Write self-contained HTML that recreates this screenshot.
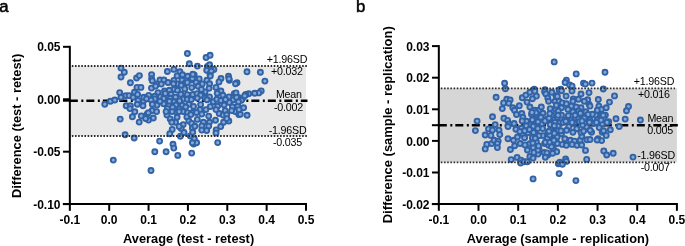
<!DOCTYPE html>
<html><head><meta charset="utf-8"><style>
html,body{margin:0;padding:0;background:#fff;width:685px;height:246px;overflow:hidden}
svg{display:block;will-change:transform}
text{font-family:"Liberation Sans",sans-serif;fill:#000}
.tk{font-size:12px;font-weight:bold}
.ti{font-size:12.9px;font-weight:bold}
.an{font-size:10.7px;text-anchor:middle;fill:#000;letter-spacing:-0.2px}
.lt{font-size:16.8px;stroke:#000;stroke-width:0.5px}
circle{fill:#85aad9;stroke:#3162a6;stroke-width:1.9}
</style></head><body>
<svg width="685" height="246" viewBox="0 0 685 246">
<rect x="70.84" y="66.00" width="235.16" height="70.00" fill="#e8e8e8"/>
<line x1="69.84" x2="307.50" y1="100.70" y2="100.70" stroke="#000" stroke-width="2.6" stroke-dasharray="8 3.5 2 3"/>
<line x1="62.94" x2="69.84" y1="100.70" y2="100.70" stroke="#000" stroke-width="2"/>
<circle cx="187.4" cy="53.5" r="2.5"/>
<circle cx="189.3" cy="63.7" r="2.5"/>
<circle cx="121.0" cy="68.1" r="2.5"/>
<circle cx="124.3" cy="72.3" r="2.5"/>
<circle cx="121.0" cy="77.0" r="2.5"/>
<circle cx="130.4" cy="82.7" r="2.5"/>
<circle cx="136.6" cy="78.0" r="2.5"/>
<circle cx="139.4" cy="75.6" r="2.5"/>
<circle cx="151.6" cy="74.6" r="2.5"/>
<circle cx="151.6" cy="78.7" r="2.5"/>
<circle cx="167.4" cy="71.5" r="2.5"/>
<circle cx="173.9" cy="69.4" r="2.5"/>
<circle cx="179.9" cy="71.8" r="2.5"/>
<circle cx="182.5" cy="74.8" r="2.5"/>
<circle cx="177.1" cy="75.9" r="2.5"/>
<circle cx="187.7" cy="76.2" r="2.5"/>
<circle cx="160.0" cy="80.0" r="2.5"/>
<circle cx="163.9" cy="80.0" r="2.5"/>
<circle cx="168.0" cy="82.5" r="2.5"/>
<circle cx="173.9" cy="80.4" r="2.5"/>
<circle cx="182.0" cy="80.0" r="2.5"/>
<circle cx="185.2" cy="83.2" r="2.5"/>
<circle cx="156.8" cy="84.0" r="2.5"/>
<circle cx="190.9" cy="80.0" r="2.5"/>
<circle cx="177.9" cy="84.0" r="2.5"/>
<circle cx="206.1" cy="57.5" r="2.5"/>
<circle cx="210.1" cy="55.2" r="2.5"/>
<circle cx="197.4" cy="66.1" r="2.5"/>
<circle cx="207.5" cy="66.5" r="2.5"/>
<circle cx="209.6" cy="64.7" r="2.5"/>
<circle cx="206.7" cy="70.2" r="2.5"/>
<circle cx="213.9" cy="69.4" r="2.5"/>
<circle cx="210.0" cy="73.9" r="2.5"/>
<circle cx="211.3" cy="71.0" r="2.5"/>
<circle cx="247.0" cy="71.8" r="2.5"/>
<circle cx="260.4" cy="72.3" r="2.5"/>
<circle cx="264.9" cy="81.1" r="2.5"/>
<circle cx="228.5" cy="76.2" r="2.5"/>
<circle cx="229.3" cy="80.2" r="2.5"/>
<circle cx="221.0" cy="78.5" r="2.5"/>
<circle cx="219.0" cy="81.9" r="2.5"/>
<circle cx="237.0" cy="82.7" r="2.5"/>
<circle cx="199.2" cy="78.9" r="2.5"/>
<circle cx="206.9" cy="80.2" r="2.5"/>
<circle cx="194.2" cy="75.0" r="2.5"/>
<circle cx="196.1" cy="82.4" r="2.5"/>
<circle cx="202.2" cy="83.9" r="2.5"/>
<circle cx="209.6" cy="83.7" r="2.5"/>
<circle cx="104.8" cy="104.2" r="2.5"/>
<circle cx="110.4" cy="101.3" r="2.5"/>
<circle cx="114.8" cy="100.0" r="2.5"/>
<circle cx="119.7" cy="92.6" r="2.5"/>
<circle cx="121.0" cy="97.2" r="2.5"/>
<circle cx="125.9" cy="95.6" r="2.5"/>
<circle cx="129.1" cy="95.6" r="2.5"/>
<circle cx="126.2" cy="105.8" r="2.5"/>
<circle cx="130.4" cy="105.7" r="2.5"/>
<circle cx="130.0" cy="108.6" r="2.5"/>
<circle cx="134.5" cy="92.3" r="2.5"/>
<circle cx="133.2" cy="97.2" r="2.5"/>
<circle cx="137.6" cy="94.4" r="2.5"/>
<circle cx="137.0" cy="87.4" r="2.5"/>
<circle cx="140.9" cy="87.4" r="2.5"/>
<circle cx="138.1" cy="100.4" r="2.5"/>
<circle cx="137.3" cy="104.2" r="2.5"/>
<circle cx="143.5" cy="100.9" r="2.5"/>
<circle cx="143.8" cy="97.2" r="2.5"/>
<circle cx="143.0" cy="105.8" r="2.5"/>
<circle cx="134.8" cy="111.8" r="2.5"/>
<circle cx="132.4" cy="116.7" r="2.5"/>
<circle cx="141.3" cy="115.9" r="2.5"/>
<circle cx="120.2" cy="119.1" r="2.5"/>
<circle cx="139.2" cy="122.1" r="2.5"/>
<circle cx="147.0" cy="114.2" r="2.5"/>
<circle cx="148.5" cy="120.1" r="2.5"/>
<circle cx="153.3" cy="118.0" r="2.5"/>
<circle cx="152.2" cy="110.5" r="2.5"/>
<circle cx="157.0" cy="105.1" r="2.5"/>
<circle cx="161.3" cy="84.1" r="2.5"/>
<circle cx="173.5" cy="83.7" r="2.5"/>
<circle cx="181.2" cy="85.3" r="2.5"/>
<circle cx="184.8" cy="88.9" r="2.5"/>
<circle cx="191.7" cy="87.6" r="2.5"/>
<circle cx="151.5" cy="88.1" r="2.5"/>
<circle cx="155.6" cy="86.1" r="2.5"/>
<circle cx="158.0" cy="92.6" r="2.5"/>
<circle cx="164.5" cy="91.0" r="2.5"/>
<circle cx="169.4" cy="90.2" r="2.5"/>
<circle cx="174.3" cy="89.3" r="2.5"/>
<circle cx="177.5" cy="90.2" r="2.5"/>
<circle cx="171.0" cy="94.2" r="2.5"/>
<circle cx="148.7" cy="95.4" r="2.5"/>
<circle cx="154.8" cy="96.3" r="2.5"/>
<circle cx="160.4" cy="96.7" r="2.5"/>
<circle cx="165.3" cy="93.4" r="2.5"/>
<circle cx="175.5" cy="97.1" r="2.5"/>
<circle cx="180.8" cy="94.2" r="2.5"/>
<circle cx="187.3" cy="94.6" r="2.5"/>
<circle cx="192.8" cy="94.5" r="2.5"/>
<circle cx="146.6" cy="98.7" r="2.5"/>
<circle cx="170.2" cy="98.3" r="2.5"/>
<circle cx="183.2" cy="99.0" r="2.5"/>
<circle cx="188.9" cy="98.7" r="2.5"/>
<circle cx="187.3" cy="82.4" r="2.5"/>
<circle cx="152.3" cy="80.8" r="2.5"/>
<circle cx="154.8" cy="98.9" r="2.5"/>
<circle cx="151.1" cy="100.1" r="2.5"/>
<circle cx="163.7" cy="98.5" r="2.5"/>
<circle cx="179.6" cy="100.9" r="2.5"/>
<circle cx="187.3" cy="99.3" r="2.5"/>
<circle cx="191.3" cy="99.5" r="2.5"/>
<circle cx="152.3" cy="104.2" r="2.5"/>
<circle cx="163.7" cy="103.8" r="2.5"/>
<circle cx="169.0" cy="105.0" r="2.5"/>
<circle cx="173.9" cy="101.7" r="2.5"/>
<circle cx="175.9" cy="105.0" r="2.5"/>
<circle cx="169.4" cy="101.3" r="2.5"/>
<circle cx="182.4" cy="105.4" r="2.5"/>
<circle cx="188.9" cy="104.2" r="2.5"/>
<circle cx="193.5" cy="106.4" r="2.5"/>
<circle cx="185.7" cy="107.0" r="2.5"/>
<circle cx="179.1" cy="109.0" r="2.5"/>
<circle cx="172.6" cy="107.4" r="2.5"/>
<circle cx="167.4" cy="108.6" r="2.5"/>
<circle cx="156.6" cy="111.6" r="2.5"/>
<circle cx="148.3" cy="112.7" r="2.5"/>
<circle cx="172.2" cy="111.6" r="2.5"/>
<circle cx="177.1" cy="112.3" r="2.5"/>
<circle cx="183.2" cy="111.5" r="2.5"/>
<circle cx="187.5" cy="112.6" r="2.5"/>
<circle cx="193.0" cy="112.3" r="2.5"/>
<circle cx="160.0" cy="101.3" r="2.5"/>
<circle cx="167.0" cy="114.9" r="2.5"/>
<circle cx="170.2" cy="118.9" r="2.5"/>
<circle cx="177.1" cy="117.3" r="2.5"/>
<circle cx="175.5" cy="122.2" r="2.5"/>
<circle cx="171.8" cy="122.2" r="2.5"/>
<circle cx="179.1" cy="111.6" r="2.5"/>
<circle cx="186.9" cy="116.9" r="2.5"/>
<circle cx="190.9" cy="114.5" r="2.5"/>
<circle cx="188.9" cy="121.0" r="2.5"/>
<circle cx="183.2" cy="124.6" r="2.5"/>
<circle cx="181.2" cy="128.4" r="2.5"/>
<circle cx="191.7" cy="123.4" r="2.5"/>
<circle cx="172.2" cy="129.4" r="2.5"/>
<circle cx="192.4" cy="128.0" r="2.5"/>
<circle cx="166.1" cy="111.6" r="2.5"/>
<circle cx="169.8" cy="133.7" r="2.5"/>
<circle cx="159.6" cy="141.1" r="2.5"/>
<circle cx="173.0" cy="144.2" r="2.5"/>
<circle cx="180.4" cy="136.2" r="2.5"/>
<circle cx="179.1" cy="126.4" r="2.5"/>
<circle cx="184.0" cy="132.5" r="2.5"/>
<circle cx="190.3" cy="136.0" r="2.5"/>
<circle cx="192.7" cy="132.3" r="2.5"/>
<circle cx="193.6" cy="144.0" r="2.5"/>
<circle cx="194.3" cy="138.8" r="2.5"/>
<circle cx="198.1" cy="86.2" r="2.5"/>
<circle cx="209.1" cy="88.2" r="2.5"/>
<circle cx="205.0" cy="91.9" r="2.5"/>
<circle cx="197.1" cy="93.6" r="2.5"/>
<circle cx="201.4" cy="89.4" r="2.5"/>
<circle cx="216.0" cy="87.4" r="2.5"/>
<circle cx="220.9" cy="91.0" r="2.5"/>
<circle cx="217.2" cy="93.3" r="2.5"/>
<circle cx="235.5" cy="83.7" r="2.5"/>
<circle cx="234.3" cy="93.6" r="2.5"/>
<circle cx="210.3" cy="76.0" r="2.5"/>
<circle cx="192.4" cy="78.4" r="2.5"/>
<circle cx="202.2" cy="95.1" r="2.5"/>
<circle cx="192.8" cy="74.2" r="2.5"/>
<circle cx="229.0" cy="78.7" r="2.5"/>
<circle cx="200.6" cy="95.3" r="2.5"/>
<circle cx="205.0" cy="98.1" r="2.5"/>
<circle cx="197.3" cy="98.1" r="2.5"/>
<circle cx="200.6" cy="104.6" r="2.5"/>
<circle cx="209.5" cy="96.9" r="2.5"/>
<circle cx="213.2" cy="101.8" r="2.5"/>
<circle cx="216.8" cy="99.3" r="2.5"/>
<circle cx="220.9" cy="100.5" r="2.5"/>
<circle cx="222.9" cy="95.3" r="2.5"/>
<circle cx="229.0" cy="96.9" r="2.5"/>
<circle cx="233.2" cy="99.8" r="2.5"/>
<circle cx="229.3" cy="102.4" r="2.5"/>
<circle cx="238.4" cy="97.5" r="2.5"/>
<circle cx="210.3" cy="106.6" r="2.5"/>
<circle cx="217.6" cy="106.2" r="2.5"/>
<circle cx="224.1" cy="105.0" r="2.5"/>
<circle cx="232.4" cy="106.7" r="2.5"/>
<circle cx="237.9" cy="106.3" r="2.5"/>
<circle cx="200.0" cy="109.6" r="2.5"/>
<circle cx="205.9" cy="109.6" r="2.5"/>
<circle cx="225.2" cy="110.6" r="2.5"/>
<circle cx="235.2" cy="111.6" r="2.5"/>
<circle cx="196.5" cy="112.5" r="2.5"/>
<circle cx="201.8" cy="114.1" r="2.5"/>
<circle cx="208.7" cy="116.1" r="2.5"/>
<circle cx="197.3" cy="119.4" r="2.5"/>
<circle cx="203.4" cy="122.2" r="2.5"/>
<circle cx="209.5" cy="122.2" r="2.5"/>
<circle cx="194.9" cy="126.3" r="2.5"/>
<circle cx="201.8" cy="125.9" r="2.5"/>
<circle cx="208.7" cy="126.1" r="2.5"/>
<circle cx="215.5" cy="120.2" r="2.5"/>
<circle cx="219.2" cy="113.5" r="2.5"/>
<circle cx="223.2" cy="115.1" r="2.5"/>
<circle cx="226.7" cy="114.7" r="2.5"/>
<circle cx="223.6" cy="122.2" r="2.5"/>
<circle cx="228.8" cy="121.0" r="2.5"/>
<circle cx="220.7" cy="126.5" r="2.5"/>
<circle cx="216.0" cy="109.6" r="2.5"/>
<circle cx="231.6" cy="110.6" r="2.5"/>
<circle cx="238.8" cy="114.5" r="2.5"/>
<circle cx="201.8" cy="130.1" r="2.5"/>
<circle cx="206.7" cy="130.5" r="2.5"/>
<circle cx="216.2" cy="129.9" r="2.5"/>
<circle cx="216.0" cy="133.0" r="2.5"/>
<circle cx="196.6" cy="142.8" r="2.5"/>
<circle cx="192.4" cy="142.7" r="2.5"/>
<circle cx="217.7" cy="142.6" r="2.5"/>
<circle cx="173.8" cy="148.1" r="2.5"/>
<circle cx="154.8" cy="151.8" r="2.5"/>
<circle cx="166.1" cy="151.8" r="2.5"/>
<circle cx="177.8" cy="155.4" r="2.5"/>
<circle cx="191.7" cy="153.1" r="2.5"/>
<circle cx="151.0" cy="170.5" r="2.5"/>
<circle cx="145.6" cy="118.5" r="2.5"/>
<circle cx="125.1" cy="134.7" r="2.5"/>
<circle cx="134.2" cy="138.0" r="2.5"/>
<circle cx="113.3" cy="160.1" r="2.5"/>
<circle cx="261.2" cy="90.9" r="2.5"/>
<circle cx="258.8" cy="92.9" r="2.5"/>
<circle cx="254.7" cy="93.2" r="2.5"/>
<circle cx="248.7" cy="93.7" r="2.5"/>
<circle cx="245.8" cy="94.5" r="2.5"/>
<circle cx="242.5" cy="98.6" r="2.5"/>
<circle cx="236.0" cy="92.9" r="2.5"/>
<circle cx="247.1" cy="115.3" r="2.5"/>
<circle cx="240.3" cy="114.2" r="2.5"/>
<circle cx="243.6" cy="107.7" r="2.5"/>
<circle cx="241.4" cy="100.2" r="2.5"/>
<circle cx="239.0" cy="109.6" r="2.5"/>
<circle cx="236.6" cy="97.4" r="2.5"/>
<circle cx="244.7" cy="95.8" r="2.5"/>
<circle cx="226.8" cy="118.6" r="2.5"/>
<circle cx="207.0" cy="99.8" r="2.5"/>
<circle cx="225.5" cy="99.5" r="2.5"/>
<circle cx="238.5" cy="101.8" r="2.5"/>
<line x1="71.84" x2="307.00" y1="66.00" y2="66.00" stroke="#2a2a2a" stroke-width="1.8" stroke-dasharray="1.55 1.605"/>
<line x1="71.84" x2="307.00" y1="136.00" y2="136.00" stroke="#2a2a2a" stroke-width="1.8" stroke-dasharray="1.55 1.605"/>
<line x1="69.84" x2="69.84" y1="45.81" y2="210.82" stroke="#000" stroke-width="2"/>
<line x1="62.84" x2="307.00" y1="204.12" y2="204.12" stroke="#000" stroke-width="2"/>
<line x1="63.04" x2="69.84" y1="46.81" y2="46.81" stroke="#000" stroke-width="2"/>
<text x="60.54" y="51.41" text-anchor="end" class="tk">0.05</text>
<line x1="63.04" x2="69.84" y1="99.25" y2="99.25" stroke="#000" stroke-width="2"/>
<text x="60.54" y="103.85" text-anchor="end" class="tk">0.00</text>
<line x1="63.04" x2="69.84" y1="151.69" y2="151.69" stroke="#000" stroke-width="2"/>
<text x="60.54" y="156.28" text-anchor="end" class="tk">-0.05</text>
<line x1="63.04" x2="69.84" y1="204.12" y2="204.12" stroke="#000" stroke-width="2"/>
<text x="60.54" y="208.72" text-anchor="end" class="tk">-0.10</text>
<text x="69.84" y="224.22" text-anchor="middle" class="tk">-0.1</text>
<line x1="109.20" x2="109.20" y1="204.12" y2="210.82" stroke="#000" stroke-width="2"/>
<text x="109.20" y="224.22" text-anchor="middle" class="tk">0.0</text>
<line x1="148.56" x2="148.56" y1="204.12" y2="210.82" stroke="#000" stroke-width="2"/>
<text x="148.56" y="224.22" text-anchor="middle" class="tk">0.1</text>
<line x1="187.92" x2="187.92" y1="204.12" y2="210.82" stroke="#000" stroke-width="2"/>
<text x="187.92" y="224.22" text-anchor="middle" class="tk">0.2</text>
<line x1="227.28" x2="227.28" y1="204.12" y2="210.82" stroke="#000" stroke-width="2"/>
<text x="227.28" y="224.22" text-anchor="middle" class="tk">0.3</text>
<line x1="266.64" x2="266.64" y1="204.12" y2="210.82" stroke="#000" stroke-width="2"/>
<text x="266.64" y="224.22" text-anchor="middle" class="tk">0.4</text>
<line x1="306.00" x2="306.00" y1="204.12" y2="210.82" stroke="#000" stroke-width="2"/>
<text x="306.00" y="224.22" text-anchor="middle" class="tk">0.5</text>
<text x="287.00" y="62.60" class="an">+1.96SD</text>
<text x="286.80" y="74.60" class="an">+0.032</text>
<text x="288.90" y="98.20" class="an">Mean</text>
<text x="288.50" y="110.60" class="an">-0.002</text>
<text x="287.60" y="133.60" class="an">-1.96SD</text>
<text x="287.50" y="146.00" class="an">-0.035</text>
<text transform="translate(21.30 125.90) rotate(-90)" text-anchor="middle" class="ti" style="font-size:12.85px">Difference (test - retest)</text>
<text x="188.60" y="243.3" text-anchor="middle" class="ti" style="font-size:12.8px">Average (test - retest)</text>
<text x="-0.70" y="11.6" class="lt">a</text>
<rect x="439.82" y="88.30" width="237.08" height="74.00" fill="#d6d6d6"/>
<line x1="438.82" x2="678.40" y1="125.20" y2="125.20" stroke="#000" stroke-width="2.6" stroke-dasharray="8 3.5 2 3"/>
<line x1="431.92" x2="438.82" y1="125.20" y2="125.20" stroke="#000" stroke-width="2"/>
<circle cx="554.2" cy="61.9" r="2.5"/>
<circle cx="576.2" cy="73.9" r="2.5"/>
<circle cx="566.4" cy="80.1" r="2.5"/>
<circle cx="565.1" cy="82.5" r="2.5"/>
<circle cx="569.7" cy="85.0" r="2.5"/>
<circle cx="572.1" cy="86.1" r="2.5"/>
<circle cx="583.5" cy="83.3" r="2.5"/>
<circle cx="504.6" cy="83.3" r="2.5"/>
<circle cx="505.4" cy="88.7" r="2.5"/>
<circle cx="534.2" cy="89.3" r="2.5"/>
<circle cx="545.0" cy="89.8" r="2.5"/>
<circle cx="560.7" cy="89.3" r="2.5"/>
<circle cx="605.0" cy="72.2" r="2.5"/>
<circle cx="585.4" cy="84.1" r="2.5"/>
<circle cx="592.0" cy="83.1" r="2.5"/>
<circle cx="572.0" cy="91.0" r="2.5"/>
<circle cx="603.3" cy="89.0" r="2.5"/>
<circle cx="581.0" cy="94.0" r="2.5"/>
<circle cx="589.0" cy="92.6" r="2.5"/>
<circle cx="614.5" cy="95.9" r="2.5"/>
<circle cx="598.3" cy="99.5" r="2.5"/>
<circle cx="587.7" cy="99.7" r="2.5"/>
<circle cx="578.4" cy="99.3" r="2.5"/>
<circle cx="573.3" cy="99.0" r="2.5"/>
<circle cx="496.1" cy="97.2" r="2.5"/>
<circle cx="506.8" cy="99.3" r="2.5"/>
<circle cx="510.1" cy="100.0" r="2.5"/>
<circle cx="503.6" cy="102.9" r="2.5"/>
<circle cx="508.8" cy="103.2" r="2.5"/>
<circle cx="502.3" cy="108.6" r="2.5"/>
<circle cx="512.8" cy="107.8" r="2.5"/>
<circle cx="514.5" cy="110.2" r="2.5"/>
<circle cx="519.3" cy="105.8" r="2.5"/>
<circle cx="516.5" cy="114.5" r="2.5"/>
<circle cx="522.3" cy="97.7" r="2.5"/>
<circle cx="525.9" cy="95.1" r="2.5"/>
<circle cx="529.9" cy="92.3" r="2.5"/>
<circle cx="534.8" cy="91.2" r="2.5"/>
<circle cx="536.4" cy="96.1" r="2.5"/>
<circle cx="532.4" cy="98.8" r="2.5"/>
<circle cx="527.0" cy="102.1" r="2.5"/>
<circle cx="529.9" cy="107.0" r="2.5"/>
<circle cx="534.8" cy="110.2" r="2.5"/>
<circle cx="538.9" cy="110.2" r="2.5"/>
<circle cx="541.3" cy="107.0" r="2.5"/>
<circle cx="544.6" cy="91.8" r="2.5"/>
<circle cx="545.9" cy="93.9" r="2.5"/>
<circle cx="547.8" cy="98.0" r="2.5"/>
<circle cx="548.6" cy="101.3" r="2.5"/>
<circle cx="551.9" cy="92.3" r="2.5"/>
<circle cx="555.9" cy="95.6" r="2.5"/>
<circle cx="559.2" cy="89.9" r="2.5"/>
<circle cx="555.1" cy="101.3" r="2.5"/>
<circle cx="550.2" cy="108.6" r="2.5"/>
<circle cx="555.9" cy="109.4" r="2.5"/>
<circle cx="492.5" cy="116.7" r="2.5"/>
<circle cx="477.1" cy="121.1" r="2.5"/>
<circle cx="503.9" cy="118.3" r="2.5"/>
<circle cx="507.6" cy="120.4" r="2.5"/>
<circle cx="521.8" cy="113.5" r="2.5"/>
<circle cx="522.8" cy="117.2" r="2.5"/>
<circle cx="526.5" cy="121.3" r="2.5"/>
<circle cx="531.5" cy="114.3" r="2.5"/>
<circle cx="534.0" cy="119.1" r="2.5"/>
<circle cx="539.7" cy="115.9" r="2.5"/>
<circle cx="542.9" cy="113.3" r="2.5"/>
<circle cx="547.0" cy="119.1" r="2.5"/>
<circle cx="551.9" cy="115.1" r="2.5"/>
<circle cx="554.7" cy="119.4" r="2.5"/>
<circle cx="559.0" cy="115.0" r="2.5"/>
<circle cx="533.2" cy="123.2" r="2.5"/>
<circle cx="541.7" cy="123.7" r="2.5"/>
<circle cx="551.1" cy="123.2" r="2.5"/>
<circle cx="514.1" cy="123.5" r="2.5"/>
<circle cx="508.8" cy="124.0" r="2.5"/>
<circle cx="495.2" cy="124.6" r="2.5"/>
<circle cx="561.5" cy="90.7" r="2.5"/>
<circle cx="566.1" cy="96.1" r="2.5"/>
<circle cx="609.5" cy="102.1" r="2.5"/>
<circle cx="628.5" cy="106.5" r="2.5"/>
<circle cx="626.5" cy="110.7" r="2.5"/>
<circle cx="616.0" cy="118.8" r="2.5"/>
<circle cx="625.2" cy="119.1" r="2.5"/>
<circle cx="640.4" cy="120.0" r="2.5"/>
<circle cx="557.4" cy="96.4" r="2.5"/>
<circle cx="559.1" cy="101.3" r="2.5"/>
<circle cx="562.3" cy="102.9" r="2.5"/>
<circle cx="556.3" cy="105.3" r="2.5"/>
<circle cx="566.4" cy="103.7" r="2.5"/>
<circle cx="572.9" cy="101.3" r="2.5"/>
<circle cx="584.3" cy="101.3" r="2.5"/>
<circle cx="589.1" cy="104.5" r="2.5"/>
<circle cx="590.0" cy="106.1" r="2.5"/>
<circle cx="581.0" cy="107.8" r="2.5"/>
<circle cx="576.1" cy="107.0" r="2.5"/>
<circle cx="571.3" cy="106.1" r="2.5"/>
<circle cx="568.0" cy="109.4" r="2.5"/>
<circle cx="561.5" cy="107.8" r="2.5"/>
<circle cx="558.3" cy="111.0" r="2.5"/>
<circle cx="572.9" cy="111.8" r="2.5"/>
<circle cx="578.6" cy="111.0" r="2.5"/>
<circle cx="585.9" cy="111.8" r="2.5"/>
<circle cx="598.9" cy="106.1" r="2.5"/>
<circle cx="601.3" cy="109.4" r="2.5"/>
<circle cx="597.3" cy="110.2" r="2.5"/>
<circle cx="606.2" cy="107.8" r="2.5"/>
<circle cx="605.4" cy="115.1" r="2.5"/>
<circle cx="601.3" cy="115.1" r="2.5"/>
<circle cx="595.7" cy="115.1" r="2.5"/>
<circle cx="592.4" cy="114.3" r="2.5"/>
<circle cx="588.0" cy="114.4" r="2.5"/>
<circle cx="581.0" cy="115.1" r="2.5"/>
<circle cx="575.2" cy="115.2" r="2.5"/>
<circle cx="568.3" cy="115.6" r="2.5"/>
<circle cx="561.5" cy="115.1" r="2.5"/>
<circle cx="557.4" cy="117.5" r="2.5"/>
<circle cx="564.8" cy="120.0" r="2.5"/>
<circle cx="571.3" cy="120.0" r="2.5"/>
<circle cx="578.6" cy="119.1" r="2.5"/>
<circle cx="584.2" cy="118.0" r="2.5"/>
<circle cx="590.0" cy="120.0" r="2.5"/>
<circle cx="597.2" cy="120.0" r="2.5"/>
<circle cx="603.8" cy="118.3" r="2.5"/>
<circle cx="608.7" cy="121.6" r="2.5"/>
<circle cx="555.0" cy="122.4" r="2.5"/>
<circle cx="560.0" cy="122.7" r="2.5"/>
<circle cx="574.0" cy="122.7" r="2.5"/>
<circle cx="585.1" cy="123.2" r="2.5"/>
<circle cx="594.0" cy="123.2" r="2.5"/>
<circle cx="602.2" cy="124.0" r="2.5"/>
<circle cx="475.4" cy="130.6" r="2.5"/>
<circle cx="485.2" cy="135.0" r="2.5"/>
<circle cx="488.5" cy="128.9" r="2.5"/>
<circle cx="492.5" cy="130.1" r="2.5"/>
<circle cx="490.9" cy="135.4" r="2.5"/>
<circle cx="499.0" cy="130.1" r="2.5"/>
<circle cx="499.8" cy="134.6" r="2.5"/>
<circle cx="486.8" cy="144.4" r="2.5"/>
<circle cx="485.2" cy="148.9" r="2.5"/>
<circle cx="491.7" cy="143.6" r="2.5"/>
<circle cx="494.1" cy="140.3" r="2.5"/>
<circle cx="498.2" cy="141.1" r="2.5"/>
<circle cx="497.4" cy="143.6" r="2.5"/>
<circle cx="497.4" cy="147.6" r="2.5"/>
<circle cx="508.0" cy="138.7" r="2.5"/>
<circle cx="510.4" cy="149.5" r="2.5"/>
<circle cx="513.5" cy="140.3" r="2.5"/>
<circle cx="514.7" cy="145.7" r="2.5"/>
<circle cx="517.5" cy="137.0" r="2.5"/>
<circle cx="515.9" cy="129.3" r="2.5"/>
<circle cx="508.0" cy="126.5" r="2.5"/>
<circle cx="520.2" cy="143.5" r="2.5"/>
<circle cx="522.6" cy="133.8" r="2.5"/>
<circle cx="525.0" cy="144.9" r="2.5"/>
<circle cx="527.4" cy="150.0" r="2.5"/>
<circle cx="529.9" cy="143.6" r="2.5"/>
<circle cx="532.4" cy="137.9" r="2.5"/>
<circle cx="536.4" cy="134.6" r="2.5"/>
<circle cx="534.0" cy="129.8" r="2.5"/>
<circle cx="527.9" cy="132.7" r="2.5"/>
<circle cx="525.0" cy="127.3" r="2.5"/>
<circle cx="530.7" cy="124.9" r="2.5"/>
<circle cx="537.2" cy="126.5" r="2.5"/>
<circle cx="542.6" cy="128.6" r="2.5"/>
<circle cx="542.7" cy="135.6" r="2.5"/>
<circle cx="547.8" cy="133.0" r="2.5"/>
<circle cx="551.1" cy="126.5" r="2.5"/>
<circle cx="554.3" cy="131.4" r="2.5"/>
<circle cx="558.0" cy="126.1" r="2.5"/>
<circle cx="550.2" cy="137.1" r="2.5"/>
<circle cx="555.9" cy="139.5" r="2.5"/>
<circle cx="536.4" cy="142.0" r="2.5"/>
<circle cx="533.2" cy="147.6" r="2.5"/>
<circle cx="538.9" cy="148.5" r="2.5"/>
<circle cx="544.6" cy="143.6" r="2.5"/>
<circle cx="548.6" cy="145.2" r="2.5"/>
<circle cx="553.5" cy="149.3" r="2.5"/>
<circle cx="544.1" cy="152.5" r="2.5"/>
<circle cx="547.8" cy="155.0" r="2.5"/>
<circle cx="556.7" cy="151.8" r="2.5"/>
<circle cx="538.0" cy="154.1" r="2.5"/>
<circle cx="529.9" cy="156.5" r="2.5"/>
<circle cx="517.1" cy="157.4" r="2.5"/>
<circle cx="511.2" cy="159.6" r="2.5"/>
<circle cx="553.5" cy="142.8" r="2.5"/>
<circle cx="619.2" cy="126.5" r="2.5"/>
<circle cx="633.0" cy="157.1" r="2.5"/>
<circle cx="613.2" cy="153.3" r="2.5"/>
<circle cx="603.8" cy="150.9" r="2.5"/>
<circle cx="606.7" cy="155.0" r="2.5"/>
<circle cx="585.5" cy="150.4" r="2.5"/>
<circle cx="586.7" cy="159.4" r="2.5"/>
<circle cx="565.6" cy="159.0" r="2.5"/>
<circle cx="610.3" cy="129.8" r="2.5"/>
<circle cx="606.2" cy="135.4" r="2.5"/>
<circle cx="602.2" cy="132.2" r="2.5"/>
<circle cx="599.2" cy="127.6" r="2.5"/>
<circle cx="598.1" cy="138.7" r="2.5"/>
<circle cx="601.6" cy="140.6" r="2.5"/>
<circle cx="587.0" cy="139.8" r="2.5"/>
<circle cx="590.0" cy="139.5" r="2.5"/>
<circle cx="591.6" cy="132.2" r="2.5"/>
<circle cx="586.6" cy="127.0" r="2.5"/>
<circle cx="589.4" cy="122.3" r="2.5"/>
<circle cx="582.6" cy="124.9" r="2.5"/>
<circle cx="576.8" cy="128.8" r="2.5"/>
<circle cx="572.9" cy="132.2" r="2.5"/>
<circle cx="568.9" cy="126.6" r="2.5"/>
<circle cx="563.1" cy="122.4" r="2.5"/>
<circle cx="557.4" cy="132.2" r="2.5"/>
<circle cx="561.5" cy="133.8" r="2.5"/>
<circle cx="557.1" cy="137.0" r="2.5"/>
<circle cx="564.8" cy="138.7" r="2.5"/>
<circle cx="570.4" cy="140.3" r="2.5"/>
<circle cx="574.5" cy="141.1" r="2.5"/>
<circle cx="580.2" cy="140.3" r="2.5"/>
<circle cx="581.8" cy="136.3" r="2.5"/>
<circle cx="581.0" cy="132.2" r="2.5"/>
<circle cx="572.1" cy="122.4" r="2.5"/>
<circle cx="579.4" cy="121.6" r="2.5"/>
<circle cx="557.3" cy="143.5" r="2.5"/>
<circle cx="562.3" cy="144.4" r="2.5"/>
<circle cx="566.4" cy="145.2" r="2.5"/>
<circle cx="572.1" cy="144.4" r="2.5"/>
<circle cx="577.0" cy="145.2" r="2.5"/>
<circle cx="581.7" cy="145.0" r="2.5"/>
<circle cx="596.5" cy="122.4" r="2.5"/>
<circle cx="607.0" cy="122.4" r="2.5"/>
<circle cx="520.9" cy="160.1" r="2.5"/>
<circle cx="520.6" cy="163.0" r="2.5"/>
<circle cx="524.1" cy="161.7" r="2.5"/>
<circle cx="527.4" cy="161.7" r="2.5"/>
<circle cx="533.1" cy="158.1" r="2.5"/>
<circle cx="533.9" cy="152.4" r="2.5"/>
<circle cx="538.0" cy="150.0" r="2.5"/>
<circle cx="546.9" cy="152.9" r="2.5"/>
<circle cx="545.3" cy="157.3" r="2.5"/>
<circle cx="552.6" cy="153.3" r="2.5"/>
<circle cx="558.3" cy="163.8" r="2.5"/>
<circle cx="559.9" cy="162.2" r="2.5"/>
<circle cx="562.4" cy="164.3" r="2.5"/>
<circle cx="566.4" cy="161.4" r="2.5"/>
<circle cx="559.1" cy="173.6" r="2.5"/>
<circle cx="533.1" cy="178.9" r="2.5"/>
<circle cx="575.9" cy="180.6" r="2.5"/>
<circle cx="597.1" cy="140.0" r="2.5"/>
<circle cx="522.2" cy="120.9" r="2.5"/>
<circle cx="521.4" cy="128.3" r="2.5"/>
<circle cx="526.3" cy="125.8" r="2.5"/>
<circle cx="532.4" cy="119.7" r="2.5"/>
<circle cx="533.2" cy="126.2" r="2.5"/>
<circle cx="537.8" cy="128.5" r="2.5"/>
<circle cx="538.0" cy="121.8" r="2.5"/>
<circle cx="540.9" cy="117.3" r="2.5"/>
<circle cx="545.0" cy="120.9" r="2.5"/>
<circle cx="549.0" cy="118.1" r="2.5"/>
<circle cx="550.2" cy="124.6" r="2.5"/>
<circle cx="554.3" cy="125.8" r="2.5"/>
<circle cx="558.0" cy="115.3" r="2.5"/>
<circle cx="536.0" cy="112.8" r="2.5"/>
<circle cx="549.8" cy="113.6" r="2.5"/>
<circle cx="532.0" cy="112.4" r="2.5"/>
<circle cx="550.7" cy="129.9" r="2.5"/>
<circle cx="558.2" cy="130.6" r="2.5"/>
<circle cx="529.5" cy="129.5" r="2.5"/>
<circle cx="524.6" cy="130.7" r="2.5"/>
<circle cx="519.8" cy="131.5" r="2.5"/>
<circle cx="533.6" cy="132.5" r="2.5"/>
<circle cx="538.9" cy="135.7" r="2.5"/>
<circle cx="547.4" cy="138.2" r="2.5"/>
<circle cx="549.8" cy="134.9" r="2.5"/>
<circle cx="554.3" cy="133.3" r="2.5"/>
<circle cx="549.0" cy="131.3" r="2.5"/>
<circle cx="532.8" cy="143.0" r="2.5"/>
<circle cx="535.2" cy="138.2" r="2.5"/>
<circle cx="545.4" cy="142.2" r="2.5"/>
<circle cx="549.8" cy="142.2" r="2.5"/>
<circle cx="553.9" cy="140.2" r="2.5"/>
<circle cx="538.5" cy="145.9" r="2.5"/>
<circle cx="551.5" cy="146.7" r="2.5"/>
<circle cx="524.6" cy="137.8" r="2.5"/>
<circle cx="580.4" cy="113.2" r="2.5"/>
<circle cx="601.1" cy="120.1" r="2.5"/>
<circle cx="603.2" cy="115.3" r="2.5"/>
<circle cx="582.0" cy="120.9" r="2.5"/>
<circle cx="565.8" cy="121.3" r="2.5"/>
<circle cx="566.6" cy="130.3" r="2.5"/>
<circle cx="560.9" cy="130.7" r="2.5"/>
<circle cx="583.6" cy="131.1" r="2.5"/>
<circle cx="590.1" cy="130.3" r="2.5"/>
<circle cx="603.6" cy="130.7" r="2.5"/>
<line x1="440.82" x2="675.00" y1="88.30" y2="88.30" stroke="#2a2a2a" stroke-width="1.8" stroke-dasharray="1.55 1.640"/>
<line x1="440.82" x2="675.00" y1="162.30" y2="162.30" stroke="#2a2a2a" stroke-width="1.8" stroke-dasharray="1.55 1.640"/>
<line x1="438.82" x2="438.82" y1="45.10" y2="210.80" stroke="#000" stroke-width="2"/>
<line x1="431.82" x2="677.90" y1="204.10" y2="204.10" stroke="#000" stroke-width="2"/>
<line x1="432.02" x2="438.82" y1="46.10" y2="46.10" stroke="#000" stroke-width="2"/>
<text x="429.52" y="50.70" text-anchor="end" class="tk">0.03</text>
<line x1="432.02" x2="438.82" y1="77.70" y2="77.70" stroke="#000" stroke-width="2"/>
<text x="429.52" y="82.30" text-anchor="end" class="tk">0.02</text>
<line x1="432.02" x2="438.82" y1="109.30" y2="109.30" stroke="#000" stroke-width="2"/>
<text x="429.52" y="113.90" text-anchor="end" class="tk">0.01</text>
<line x1="432.02" x2="438.82" y1="140.90" y2="140.90" stroke="#000" stroke-width="2"/>
<text x="429.52" y="145.50" text-anchor="end" class="tk">0.00</text>
<line x1="432.02" x2="438.82" y1="172.50" y2="172.50" stroke="#000" stroke-width="2"/>
<text x="429.52" y="177.10" text-anchor="end" class="tk">-0.01</text>
<line x1="432.02" x2="438.82" y1="204.10" y2="204.10" stroke="#000" stroke-width="2"/>
<text x="429.52" y="208.70" text-anchor="end" class="tk">-0.02</text>
<text x="438.82" y="224.20" text-anchor="middle" class="tk">-0.1</text>
<line x1="478.50" x2="478.50" y1="204.10" y2="210.80" stroke="#000" stroke-width="2"/>
<text x="478.50" y="224.20" text-anchor="middle" class="tk">0.0</text>
<line x1="518.18" x2="518.18" y1="204.10" y2="210.80" stroke="#000" stroke-width="2"/>
<text x="518.18" y="224.20" text-anchor="middle" class="tk">0.1</text>
<line x1="557.86" x2="557.86" y1="204.10" y2="210.80" stroke="#000" stroke-width="2"/>
<text x="557.86" y="224.20" text-anchor="middle" class="tk">0.2</text>
<line x1="597.54" x2="597.54" y1="204.10" y2="210.80" stroke="#000" stroke-width="2"/>
<text x="597.54" y="224.20" text-anchor="middle" class="tk">0.3</text>
<line x1="637.22" x2="637.22" y1="204.10" y2="210.80" stroke="#000" stroke-width="2"/>
<text x="637.22" y="224.20" text-anchor="middle" class="tk">0.4</text>
<line x1="676.90" x2="676.90" y1="204.10" y2="210.80" stroke="#000" stroke-width="2"/>
<text x="676.90" y="224.20" text-anchor="middle" class="tk">0.5</text>
<text x="654.00" y="85.20" class="an">+1.96SD</text>
<text x="653.90" y="97.60" class="an">+0.016</text>
<text x="660.40" y="122.20" class="an">Mean</text>
<text x="660.10" y="134.10" class="an">0.005</text>
<text x="656.10" y="158.80" class="an">-1.96SD</text>
<text x="655.20" y="171.40" class="an">-0.007</text>
<text transform="translate(392.00 124.80) rotate(-90)" text-anchor="middle" class="ti" style="font-size:12.95px">Difference (sample - replication)</text>
<text x="557.90" y="243.3" text-anchor="middle" class="ti" style="font-size:12.8px">Average (sample - replication)</text>
<text x="355.90" y="11.6" class="lt">b</text>
</svg>
</body></html>
